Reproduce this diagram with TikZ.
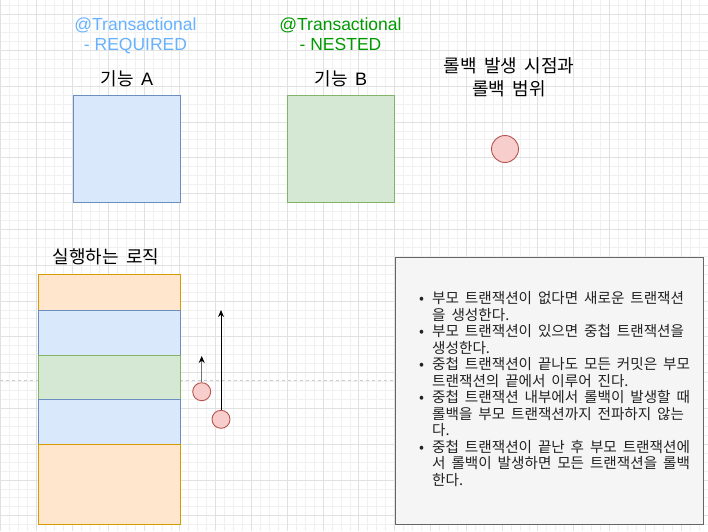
\documentclass[tikz,border=0pt]{standalone}
\usepackage{fontspec}
\usetikzlibrary{arrows.meta}
\newfontfamily\krfont[WordSpace=1.8]{Noto Sans CJK KR}
\newfontfamily\latfont{Liberation Sans}
\definecolor{gridminor}{HTML}{F0F0F0}
\definecolor{gridmajor}{HTML}{E1E1E1}
\definecolor{bluefill}{HTML}{DAE8FC}
\definecolor{bluestroke}{HTML}{6C8EBF}
\definecolor{greenfill}{HTML}{D5E8D4}
\definecolor{greenstroke}{HTML}{82B366}
\definecolor{orangefill}{HTML}{FFE6CC}
\definecolor{orangestroke}{HTML}{D79B00}
\definecolor{redfill}{HTML}{F8CECC}
\definecolor{redstroke}{HTML}{B85450}
\definecolor{grayfill}{HTML}{F5F5F5}
\definecolor{graystroke}{HTML}{666666}
\definecolor{reqblue}{HTML}{66B2FF}
\definecolor{nestgreen}{HTML}{009900}
\definecolor{bodytext}{HTML}{222222}
\definecolor{dashgray}{HTML}{CCCCCC}
\begin{document}
\begin{tikzpicture}[x=1pt,y=-1pt,
  minorgrid/.style={draw=gridminor,line width=0.7pt},
  majorgrid/.style={draw=gridmajor,line width=0.8pt},
  box/.style={rectangle,inner sep=0pt,line width=0.9pt},
  bluebox/.style={box,fill=bluefill,draw=bluestroke},
  greenbox/.style={box,fill=greenfill,draw=greenstroke},
  orangebox/.style={box,fill=orangefill,draw=orangestroke},
  notebox/.style={box,fill=grayfill,draw=graystroke},
  redcircle/.style={circle,inner sep=0pt,fill=redfill,draw=redstroke,line width=0.9pt},
  latlabel/.style={inner sep=0pt,anchor=base,font=\latfont\fontsize{17.5}{20}\selectfont},
  krlabel/.style={inner sep=0pt,anchor=base,text=black,font=\krfont\fontsize{18}{21}\selectfont},
  noteline/.style={inner sep=0pt,anchor=base west,text=bodytext,font=\krfont\fontsize{14.6}{17}\selectfont},
  arrowline/.style={line width=0.9pt,-{Stealth[length=7pt,width=6pt,color=black]}},
  guide/.style={draw=dashgray,line width=0.8pt,dash pattern=on 3pt off 3pt}
]
\useasboundingbox (0,0) rectangle (708,531);
\fill[white] (0,0) rectangle (708,531);
% grid
\foreach \i in {0,...,79} {\draw[minorgrid] ({0.8+\i*8.95},0) -- ({0.8+\i*8.95},531);}
\foreach \j in {0,...,59} {\draw[minorgrid] (0,{5.55+\j*8.95}) -- (708,{5.55+\j*8.95});}
\foreach \i in {0,4,...,76} {\draw[majorgrid] ({0.8+\i*8.95},0) -- ({0.8+\i*8.95},531);}
\foreach \j in {1,5,...,57} {\draw[majorgrid] (0,{5.55+\j*8.95}) -- (708,{5.55+\j*8.95});}

% dashed guide line
\coordinate (gl) at (0,380);
\coordinate (gr) at (395,380);
\draw[guide] (gl) -- (gr);

% top labels
\node[latlabel,text=reqblue] (reqa) at (135.5,30) {@Transactional};
\node[latlabel,text=reqblue] (reqb) at (135.5,50.7) {- REQUIRED};
\node[latlabel,text=nestgreen] (nesta) at (340.5,30) {@Transactional};
\node[latlabel,text=nestgreen] (nestb) at (340.5,50.7) {- NESTED};
\node[krlabel] (labA) at (127,85) {기능 {\latfont A}};
\node[krlabel] (labB) at (341,85) {기능 {\latfont B}};
\node[krlabel] (rb1) at (509,72.5) {롤백 발생 시점과};
\node[krlabel] (rb2) at (509,95) {롤백 범위};
\node[krlabel] (logic) at (106,263.5) {실행하는 로직};

% feature boxes
\node[bluebox,minimum width=107.4pt,minimum height=107pt] (boxA) at (127,148.8) {};
\node[greenbox,minimum width=107.4pt,minimum height=107pt] (boxB) at (341,148.8) {};
\node[redcircle,minimum size=27pt] (rcirc) at (505,149) {};

% logic stack
\node[orangebox,minimum width=142.7pt,minimum height=36pt] (o1) at (109.35,292.3) {};
\node[bluebox,minimum width=142.7pt,minimum height=44.7pt] (b1) at (109.35,332.65) {};
\node[greenbox,minimum width=142.7pt,minimum height=44.3pt] (g1) at (109.35,377.15) {};
\node[bluebox,minimum width=142.7pt,minimum height=44.7pt] (b2) at (109.35,421.65) {};
\node[orangebox,minimum width=142.7pt,minimum height=80pt] (o2) at (109.35,484) {};

% rollback circles and arrows
\node[redcircle,minimum size=18pt] (c1) at (201.7,391.7) {};
\node[redcircle,minimum size=18pt] (c2) at (221,419.3) {};
\coordinate (t1) at (201.7,356);
\coordinate (t2) at (221,310);
\draw[arrowline,draw=black!55] (c1.north) -- (t1);
\draw[arrowline,draw=black] (c2.north) -- (t2);

% note box
\node[notebox,minimum width=308pt,minimum height=267pt] (note) at (549,390.5) {};
\newcommand{\bul}{\makebox[0pt][r]{•\hspace{8pt}}}
\node[noteline] (n1) at (432,303.6) {\bul 부모 트랜잭션이 없다면 새로운 트랜잭션};
\node[noteline] (n2) at (432,320.1) {을 생성한다.};
\node[noteline] (n3) at (432,336.6) {\bul 부모 트랜잭션이 있으면 중첩 트랜잭션을};
\node[noteline] (n4) at (432,353.1) {생성한다.};
\node[noteline] (n5) at (432,369.6) {\bul 중첩 트랜잭션이 끝나도 모든 커밋은 부모};
\node[noteline] (n6) at (432,386.1) {트랜잭션의 끝에서 이루어 진다.};
\node[noteline] (n7) at (432,402.6) {\bul 중첩 트랜잭션 내부에서 롤백이 발생할 때};
\node[noteline] (n8) at (432,419.1) {롤백을 부모 트랜잭션까지 전파하지 않는};
\node[noteline] (n9) at (432,435.6) {다.};
\node[noteline] (n10) at (432,452.1) {\bul 중첩 트랜잭션이 끝난 후 부모 트랜잭션에};
\node[noteline] (n11) at (432,468.6) {서 롤백이 발생하면 모든 트랜잭션을 롤백};
\node[noteline] (n12) at (432,485.1) {한다.};
\end{tikzpicture}
\end{document}
